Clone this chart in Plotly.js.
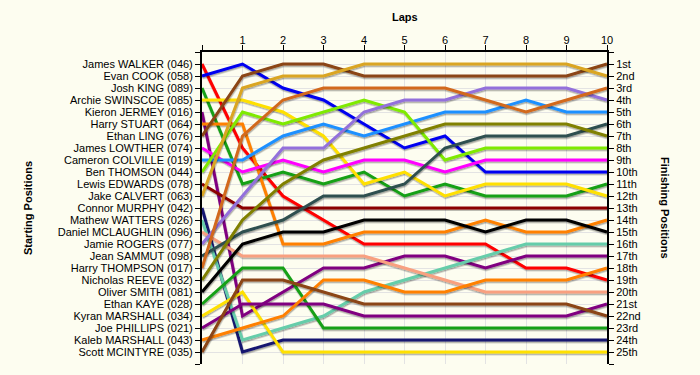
<!DOCTYPE html>
<html>
<head>
<meta charset="utf-8">
<script src="https://cdn.plot.ly/plotly-3.0.1.min.js"></script>
<style>
  html, body { margin: 0; padding: 0; background: #FDFDF0; }
  #chart { width: 700px; height: 375px; }
</style>
</head>
<body>
<div id="chart"></div>
<script>
// ---- Data ----
const laps = [0, 1, 2, 3, 4, 5, 6, 7, 8, 9, 10];

const drivers = [
  "James WALKER (046)", "Evan COOK (058)", "Josh KING (089)", "Archie SWINSCOE (085)",
  "Kieron JERMEY (016)", "Harry STUART (064)", "Ethan LING (076)", "James LOWTHER (074)",
  "Cameron COLVILLE (019)", "Ben THOMSON (044)", "Lewis EDWARDS (078)", "Jake CALVERT (063)",
  "Connor MURPHY (042)", "Mathew WATTERS (026)", "Daniel MCLAUGHLIN (096)", "Jamie ROGERS (077)",
  "Jean SAMMUT (098)", "Harry THOMPSON (017)", "Nicholas REEVE (032)", "Oliver SMITH (081)",
  "Ethan KAYE (028)", "Kyran MARSHALL (034)", "Joe PHILLIPS (021)", "Kaleb MARSHALL (043)",
  "Scott MCINTYRE (035)"
];

const finishLabels = [
  "1st", "2nd", "3rd", "4th", "5th", "6th", "7th", "8th", "9th", "10th",
  "11th", "12th", "13th", "14th", "15th", "16th", "17th", "18th", "19th", "20th",
  "21st", "22nd", "23rd", "24th", "25th"
];

// Position of each driver at the end of each lap (lap 0 = grid)
const posJamesWalker      = [1, 8, 12, 14, 16, 16, 16, 16, 18, 18, 19];
const posEvanCook         = [2, 1, 3, 4, 6, 8, 7, 10, 10, 10, 10];
const posJoshKing         = [3, 11, 10, 11, 10, 12, 11, 12, 12, 12, 11];
const posArchieSwinscoe   = [4, 4, 5, 7, 11, 10, 12, 11, 11, 11, 12];
const posKieronJermey     = [5, 22, 20, 18, 18, 17, 17, 18, 17, 17, 17];
const posHarryStuart      = [6, 6, 16, 16, 15, 15, 15, 14, 15, 15, 14];
const posEthanLing        = [7, 2, 1, 1, 2, 2, 2, 2, 2, 2, 1];
const posJamesLowther     = [8, 10, 9, 10, 9, 9, 10, 9, 9, 9, 9];
const posCameronColville  = [9, 9, 7, 6, 7, 6, 5, 5, 4, 5, 5];
const posBenThomson       = [10, 5, 6, 5, 4, 5, 9, 8, 8, 8, 8];
const posLewisEdwards     = [11, 13, 13, 13, 13, 13, 13, 13, 13, 13, 13];
const posJakeCalvert      = [12, 3, 2, 2, 1, 1, 1, 1, 1, 1, 2];
const posConnorMurphy     = [13, 25, 24, 24, 24, 24, 24, 24, 24, 24, 24];
const posMathewWatters    = [14, 24, 23, 22, 20, 19, 18, 17, 16, 16, 16];
const posDanielMclaughlin = [15, 17, 17, 17, 17, 18, 19, 20, 20, 20, 20];
const posJamieRogers      = [16, 12, 8, 8, 5, 4, 4, 3, 3, 3, 4];
const posJeanSammut       = [17, 15, 14, 12, 12, 11, 8, 7, 7, 7, 6];
const posHarryThompson    = [18, 7, 4, 3, 3, 3, 3, 4, 5, 4, 3];
const posNicholasReeve    = [19, 14, 11, 9, 8, 7, 6, 6, 6, 6, 7];
const posOliverSmith      = [20, 16, 15, 15, 14, 14, 14, 15, 14, 14, 15];
const posEthanKaye        = [21, 18, 18, 23, 23, 23, 23, 23, 23, 23, 23];
const posKyranMarshall    = [22, 20, 25, 25, 25, 25, 25, 25, 25, 25, 25];
const posJoePhillips      = [23, 21, 21, 21, 22, 22, 22, 22, 22, 22, 21];
const posKalebMarshall    = [24, 23, 22, 19, 19, 20, 20, 19, 19, 19, 18];
const posScottMcintyre    = [25, 19, 19, 20, 21, 21, 21, 21, 21, 21, 22];

const positions = [
  posJamesWalker, posEvanCook, posJoshKing, posArchieSwinscoe, posKieronJermey,
  posHarryStuart, posEthanLing, posJamesLowther, posCameronColville, posBenThomson,
  posLewisEdwards, posJakeCalvert, posConnorMurphy, posMathewWatters, posDanielMclaughlin,
  posJamieRogers, posJeanSammut, posHarryThompson, posNicholasReeve, posOliverSmith,
  posEthanKaye, posKyranMarshall, posJoePhillips, posKalebMarshall, posScottMcintyre
];

// ---- Styles ----
const colors = [
  "#FF0000", "#0000F0", "#14A014", "#FFE000", "#800080",
  "#FF8000", "#8B4513", "#FF00FF", "#1E90FF", "#7FEA00",
  "#8B0000", "#DAA520", "#191970", "#66CDAA", "#F8A080",
  "#9370DB", "#2F4F4F", "#D2691E", "#808000", "#000000",
  "#14A014", "#FFE000", "#800080", "#FF8000", "#8B4513"
];

const FONT = "Liberation Sans, Arial, sans-serif";

const traces = positions.map((p, i) => ({
  type: "scatter",
  mode: "lines",
  x: laps,
  y: p,
  name: drivers[i],
  line: { color: colors[i], width: 3 },
  hoverinfo: "none"
}));

// invisible helper trace so the right axis is drawn
traces.push({
  type: "scatter", mode: "markers", x: laps, y: posEthanLing,
  yaxis: "y2", marker: { opacity: 0 }, hoverinfo: "none", showlegend: false
});

const posTicks = Array.from({ length: 27 }, (_, k) => k);

const layout = {
  width: 700,
  height: 375,
  paper_bgcolor: "#FDFDF0",
  plot_bgcolor: "#FDFDF0",
  showlegend: false,
  margin: { l: 202, r: 93, t: 52, b: 11, pad: 0 },
  font: { family: FONT, size: 11, color: "#000" },
  xaxis: {
    range: [0, 10],
    side: "top",
    tickvals: laps,
    ticktext: laps.map(v => v === 0 ? "" : String(v)),
    showgrid: true,
    gridcolor: "#E3E3E3",
    gridwidth: 1,
    zeroline: false,
    showline: true,
    linecolor: "#000",
    linewidth: 2,
    ticks: "outside",
    ticklen: 5,
    tickwidth: 1,
    tickcolor: "#000",
    ticklabelstandoff: -3,
    tickfont: { family: FONT, size: 11, color: "#000" },
    fixedrange: true
  },
  yaxis: {
    range: [26, 0],
    tickvals: posTicks,
    ticktext: ["", ...drivers, ""],
    showgrid: true,
    gridcolor: "#E3E3E3",
    gridwidth: 1,
    zeroline: false,
    showline: true,
    linecolor: "#000",
    linewidth: 2,
    ticks: "outside",
    ticklen: 5,
    tickwidth: 1,
    tickcolor: "#000",
    tickfont: { family: FONT, size: 11, color: "#000" },
    fixedrange: true
  },
  yaxis2: {
    overlaying: "y",
    side: "right",
    range: [26, 0],
    tickvals: posTicks,
    ticktext: ["", ...finishLabels, ""],
    showgrid: false,
    zeroline: false,
    showline: true,
    linecolor: "#000",
    linewidth: 2,
    ticks: "outside",
    ticklen: 5,
    tickwidth: 1,
    tickcolor: "#000",
    tickfont: { family: FONT, size: 11, color: "#000" },
    fixedrange: true
  },
  annotations: [
    {
      text: "<b>Laps</b>", xref: "paper", yref: "paper",
      x: 0.5, y: 1.112, xanchor: "center", yanchor: "middle",
      showarrow: false, font: { family: FONT, size: 11, color: "#000" }
    },
    {
      text: "<b>Starting Positions</b>", xref: "paper", yref: "paper",
      x: -0.4296, y: 0.50, xanchor: "center", yanchor: "middle", textangle: -90,
      showarrow: false, font: { family: FONT, size: 11, color: "#000" }
    },
    {
      text: "<b>Finishing Positions</b>", xref: "paper", yref: "paper",
      x: 1.143, y: 0.50, xanchor: "center", yanchor: "middle", textangle: 90,
      showarrow: false, font: { family: FONT, size: 11, color: "#000" }
    }
  ]
};

Plotly.newPlot("chart", traces, layout, { staticPlot: true, displayModeBar: false }).then(gd => {
  // subtle drop shadow under the lines, like the original
  const svg = gd.querySelector("svg.main-svg");
  const ns = "http://www.w3.org/2000/svg";
  const defs = document.createElementNS(ns, "defs");
  const filt = document.createElementNS(ns, "filter");
  filt.setAttribute("id", "lineShadow");
  filt.setAttribute("x", "-10%"); filt.setAttribute("y", "-10%");
  filt.setAttribute("width", "120%"); filt.setAttribute("height", "120%");
  const ds = document.createElementNS(ns, "feDropShadow");
  ds.setAttribute("dx", "0.5"); ds.setAttribute("dy", "1.5");
  ds.setAttribute("stdDeviation", "0.4");
  ds.setAttribute("flood-color", "#000"); ds.setAttribute("flood-opacity", "0.35");
  filt.appendChild(ds); defs.appendChild(filt); svg.appendChild(defs);
  gd.querySelectorAll(".scatterlayer .trace path.js-line").forEach(p => {
    p.setAttribute("filter", "url(#lineShadow)");
  });
});
</script>
</body>
</html>
